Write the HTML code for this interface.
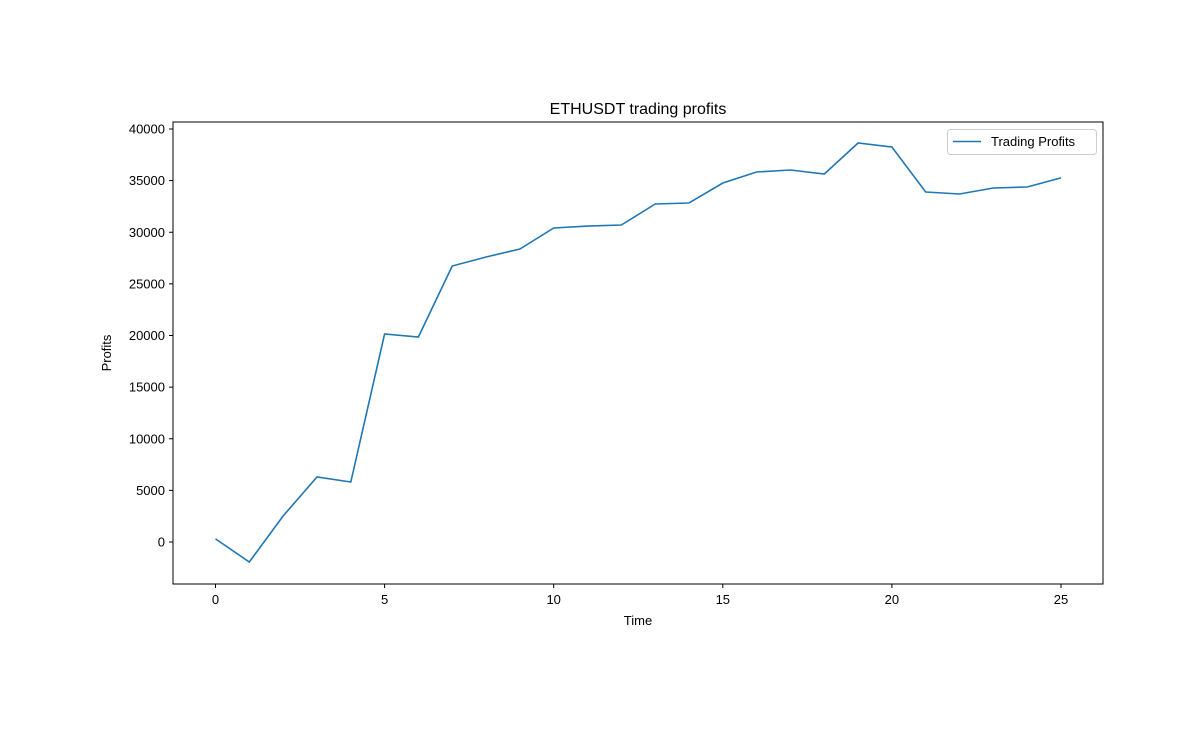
<!DOCTYPE html>
<html><head><meta charset="utf-8"><style>
html,body{margin:0;padding:0;background:#fff;}
svg text{font-family:"Liberation Sans","DejaVu Sans",sans-serif;fill:#000;}
</style></head><body>
<svg id="chart" width="1203" height="727" viewBox="0 0 1203 727" xmlns="http://www.w3.org/2000/svg">
<rect width="1203" height="727" fill="#fff"/>
<text x="638" y="114" font-size="16" text-anchor="middle">ETHUSDT trading profits</text>
<g id="xticks"></g>
<g id="yticks"></g>
<path id="line" fill="none" stroke="#1f77b4" stroke-width="1.6"/>
<rect x="173" y="122" width="930" height="462" fill="none" stroke="#000" stroke-width="1"/>
<text x="638" y="625" font-size="13" text-anchor="middle">Time</text>
<text transform="translate(111,353) rotate(-90)" font-size="13" text-anchor="middle">Profits</text>
<g>
<rect x="947.5" y="129.5" width="149" height="25" rx="3" fill="#fff" stroke="#ccc"/>
<line x1="953" y1="141.5" x2="981" y2="141.5" stroke="#1f77b4" stroke-width="1.6"/>
<text x="991" y="146" font-size="13">Trading Profits</text>
</g>
</svg>
<script>
const times = [0,1,2,3,4,5,6,7,8,9,10,11,12,13,14,15,16,17,18,19,20,21,22,23,24,25];
const profits = [300,-1940,2520,6300,5810,20150,19850,26730,27600,28380,30410,30600,30700,32740,32830,34770,35840,36030,35640,38640,38260,33900,33700,34290,34380,35260];
const xTickValues = [0,5,10,15,20,25];
const yTickValues = [0,5000,10000,15000,20000,25000,30000,35000,40000];
const ns="http://www.w3.org/2000/svg";
function xs(v){return 215.5+v*(1061-215.5)/25;}
function ys(v){return 542-v*(542-129)/40000;}
const line=document.getElementById('line');
line.setAttribute('d',times.map((t,i)=>(i?'L':'M')+xs(t).toFixed(1)+','+ys(profits[i]).toFixed(1)).join(' '));
const xg=document.getElementById('xticks');
xTickValues.forEach(v=>{
  const l=document.createElementNS(ns,'line');
  l.setAttribute('x1',xs(v));l.setAttribute('x2',xs(v));l.setAttribute('y1',584);l.setAttribute('y2',588);l.setAttribute('stroke','#000');
  
  
  xg.appendChild(l);
  const t=document.createElementNS(ns,'text');
  t.setAttribute('x',xs(v));t.setAttribute('y',604);t.setAttribute('font-size','13');t.setAttribute('text-anchor','middle');
  t.textContent=v;
  
  
  xg.appendChild(t);
});
const yg=document.getElementById('yticks');
yTickValues.forEach(v=>{
  const l=document.createElementNS(ns,'line');
  l.setAttribute('x1',169);l.setAttribute('x2',173);l.setAttribute('y1',ys(v));l.setAttribute('y2',ys(v));l.setAttribute('stroke','#000');
  
  
  yg.appendChild(l);
  const t=document.createElementNS(ns,'text');
  t.setAttribute('x',165);t.setAttribute('y',ys(v)+4.5);t.setAttribute('font-size','13');t.setAttribute('text-anchor','end');
  t.textContent=v;
  
  
  yg.appendChild(t);
});
</script>
</body></html>
